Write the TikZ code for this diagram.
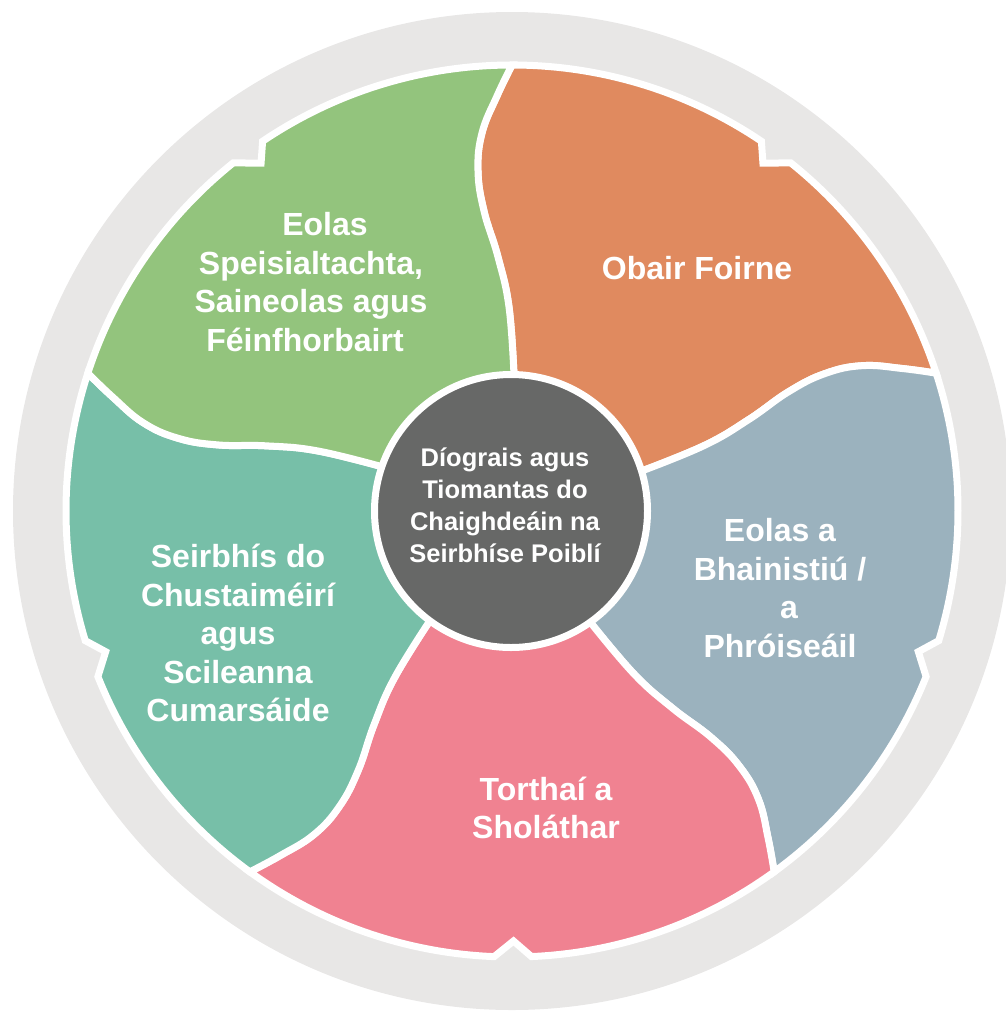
\documentclass[tikz,border=0pt]{standalone}
\usepackage{fontspec}
\setmainfont{Liberation Sans}
\definecolor{ringgrey}{HTML}{E8E7E6}
\definecolor{cgreen}{HTML}{93C47D}
\definecolor{corange}{HTML}{E08A5F}
\definecolor{cblue}{HTML}{9BB2BE}
\definecolor{cpink}{HTML}{F08291}
\definecolor{cteal}{HTML}{77BFA8}
\definecolor{cdark}{HTML}{676867}
\begin{document}
\begin{tikzpicture}[x=1pt,y=1pt,
  seg/.style={draw=white, line width=7pt},
  lbl/.style={text=white, font=\bfseries\fontsize{32}{38.5}\selectfont, align=center, inner sep=0pt},
  hublbl/.style={text=white, font=\bfseries\fontsize{25.5}{32}\selectfont, align=center, inner sep=0pt}]
\useasboundingbox (0,-1012) rectangle (1006,0);
\clip (0,-1012) rectangle (1006,0);
\fill[ringgrey] (512,-511) circle[radius=499];
\begin{scope}[shift={(512,-511)}]
  \foreach \j in {0,...,4}{
    \begin{scope}[rotate=-72*\j]
      \coordinate (d\j-1) at (2,136);
      \coordinate (d\j-2) at (-3,204);
      \coordinate (d\j-3) at (-14,254);
      \coordinate (d\j-4) at (-28,300);
      \coordinate (d\j-5) at (-34,340);
      \coordinate (d\j-6) at (-30,378);
      \coordinate (d\j-7) at (-15,415);
      \coordinate (d\j-8) at (0,446);
    \end{scope}
  }
  \coordinate (O) at (0,0);
  % orange: between d1 (18) and d0 (90)
  \path[seg, fill=corange] (O) -- plot[smooth, tension=0.7] coordinates {(d1-1) (d1-2) (d1-3) (d1-4) (d1-5) (d1-6) (d1-7) (d1-8)}
    arc[start angle=18, end angle=51.3, radius=446] -- (54.2:429) -- (56:446)
    arc[start angle=56, end angle=90, radius=446]
    -- plot[smooth, tension=0.7] coordinates {(d0-8) (d0-7) (d0-6) (d0-5) (d0-4) (d0-3) (d0-2) (d0-1)} -- cycle;
  % blue: between d2 (-54) and d1 (18)
  \path[seg, fill=cblue] (O) -- plot[smooth, tension=0.7] coordinates {(d2-1) (d2-2) (d2-3) (d2-4) (d2-5) (d2-6) (d2-7) (d2-8)}
    arc[start angle=-54, end angle=-21.8, radius=446] -- (-19.1:430) -- (-16.9:446)
    arc[start angle=-16.9, end angle=18, radius=446]
    -- plot[smooth, tension=0.7] coordinates {(d1-8) (d1-7) (d1-6) (d1-5) (d1-4) (d1-3) (d1-2) (d1-1)} -- cycle;
  % pink: between d3 (-126) and d2 (-54)
  \path[seg, fill=cpink] (O) -- plot[smooth, tension=0.7] coordinates {(d3-1) (d3-2) (d3-3) (d3-4) (d3-5) (d3-6) (d3-7) (d3-8)}
    arc[start angle=-126, end angle=-92.3, radius=446] -- (-89.8:430) -- (-87.5:446)
    arc[start angle=-87.5, end angle=-54, radius=446]
    -- plot[smooth, tension=0.7] coordinates {(d2-8) (d2-7) (d2-6) (d2-5) (d2-4) (d2-3) (d2-2) (d2-1)} -- cycle;
  % teal: between d4 (162) and d3 (234)
  \path[seg, fill=cteal] (O) -- plot[smooth, tension=0.7] coordinates {(d4-1) (d4-2) (d4-3) (d4-4) (d4-5) (d4-6) (d4-7) (d4-8)}
    arc[start angle=162, end angle=196.9, radius=446] -- (199.1:430) -- (201.8:446)
    arc[start angle=201.8, end angle=234, radius=446]
    -- plot[smooth, tension=0.7] coordinates {(d3-8) (d3-7) (d3-6) (d3-5) (d3-4) (d3-3) (d3-2) (d3-1)} -- cycle;
  % green: between d0 (90) and d4 (162)
  \path[seg, fill=cgreen] (O) -- plot[smooth, tension=0.7] coordinates {(d0-1) (d0-2) (d0-3) (d0-4) (d0-5) (d0-6) (d0-7) (d0-8)}
    arc[start angle=90, end angle=124, radius=446] -- (125.8:429) -- (128.7:446)
    arc[start angle=128.7, end angle=162, radius=446]
    -- plot[smooth, tension=0.7] coordinates {(d4-8) (d4-7) (d4-6) (d4-5) (d4-4) (d4-3) (d4-2) (d4-1)} -- cycle;
\end{scope}
\node[circle, fill=cdark, draw=white, line width=7pt, minimum size=273pt, inner sep=0pt] (hub) at (511,-511) {};
\node[hublbl] (hubtext) at (505,-505.5) {Díograis agus\\Tiomantas do\\Chaighdeáin na\\Seirbhíse Poiblí};
\node[lbl] (tgreen) at (311,-282) {\hspace*{28pt}Eolas\\Speisialtachta,\\Saineolas agus\\Féinfhorbairt\hspace*{12pt}};
\node[lbl] (torange) at (697,-268) {Obair Foirne};
\node[lbl] (tblue) at (780,-588) {Eolas a\\Bhainistiú /\\\hspace*{18pt}a\\Phróiseáil};
\node[lbl] (tteal) at (238,-633) {Seirbhís do\\Chustaiméirí\\agus\\Scileanna\\Cumarsáide};
\node[lbl] (tpink) at (546,-808) {Torthaí a\\Sholáthar};
\end{tikzpicture}
\end{document}
